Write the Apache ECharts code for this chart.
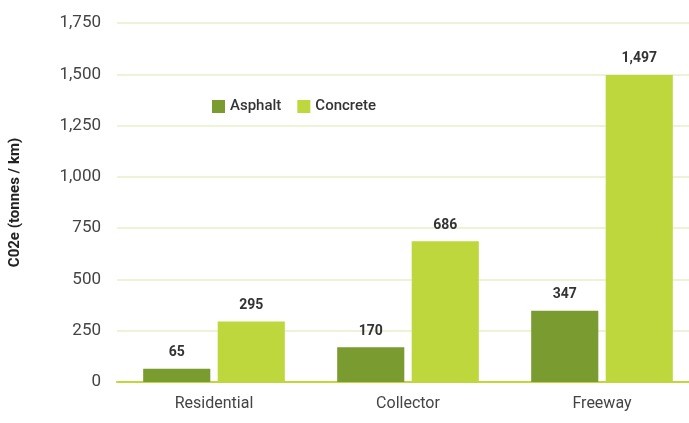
<!DOCTYPE html>
<html>
<head>
<meta charset="utf-8">
<script src="https://cdn.jsdelivr.net/npm/echarts@6/dist/echarts.min.js"></script>
<style>
  html, body { margin: 0; padding: 0; background: #fff; overflow: hidden; }
  /* canvas a bit wider than the window so the last category band keeps its full width */
  #chart { width: 700px; height: 423px; }
</style>
</head>
<body>
<div id="chart"></div>
<script>
// road types
const categories = ['Residential', 'Collector', 'Freeway']
// embodied CO2e, tonnes per km
const asphalt = [65, 170, 347]
const concrete = [295, 686, 1497]
const yTicks = [0, 250, 500, 750, 1000, 1250, 1500, 1750]

const fmt = v => v.toLocaleString('en-US')

const chart = echarts.init(document.getElementById('chart'))

const labelStyle = {
  show: true,
  position: 'top',
  distance: 9,
  color: '#333',
  fontFamily: 'Roboto',
  fontWeight: 'bold',
  fontSize: 14,
  formatter: p => fmt(p.value)
}

chart.setOption({
  animation: false,
  grid: { left: 116, top: 23, right: 1, bottom: 41 },
  legend: {
    left: 207,
    top: 94,
    itemWidth: 13,
    itemHeight: 13,
    itemGap: 16,
    icon: 'rect',
    textStyle: { color: '#333', fontSize: 15, fontFamily: 'Roboto', fontWeight: 500 },
    data: ['Asphalt', 'Concrete']
  },
  xAxis: {
    type: 'category',
    data: categories,
    axisLine: { show: true, lineStyle: { color: '#bed73b', width: 2 } },
    axisTick: { show: false },
    axisLabel: { color: '#444', fontSize: 16, fontFamily: 'Roboto', margin: 14 }
  },
  yAxis: {
    type: 'value',
    min: yTicks[0],
    max: yTicks[yTicks.length - 1],
    interval: 250,
    name: 'C02e (tonnes / km)',
    nameLocation: 'middle',
    nameGap: 94,
    nameTextStyle: { color: '#222', fontSize: 15, fontWeight: 'bold', fontFamily: 'Roboto' },
    axisLabel: { color: '#444', fontSize: 17, fontFamily: 'Roboto', margin: 16, formatter: v => fmt(v) },
    splitLine: { lineStyle: { color: '#eef3d8', width: 2 } }
  },
  series: [
    {
      name: 'Asphalt',
      type: 'bar',
      data: asphalt,
      barGap: '11%',
      barCategoryGap: '27%',
      itemStyle: { color: '#7a9b2f' },
      label: labelStyle
    },
    {
      name: 'Concrete',
      type: 'bar',
      data: concrete,
      itemStyle: { color: '#bed73c' },
      label: labelStyle
    }
  ]
})
</script>
</body>
</html>
